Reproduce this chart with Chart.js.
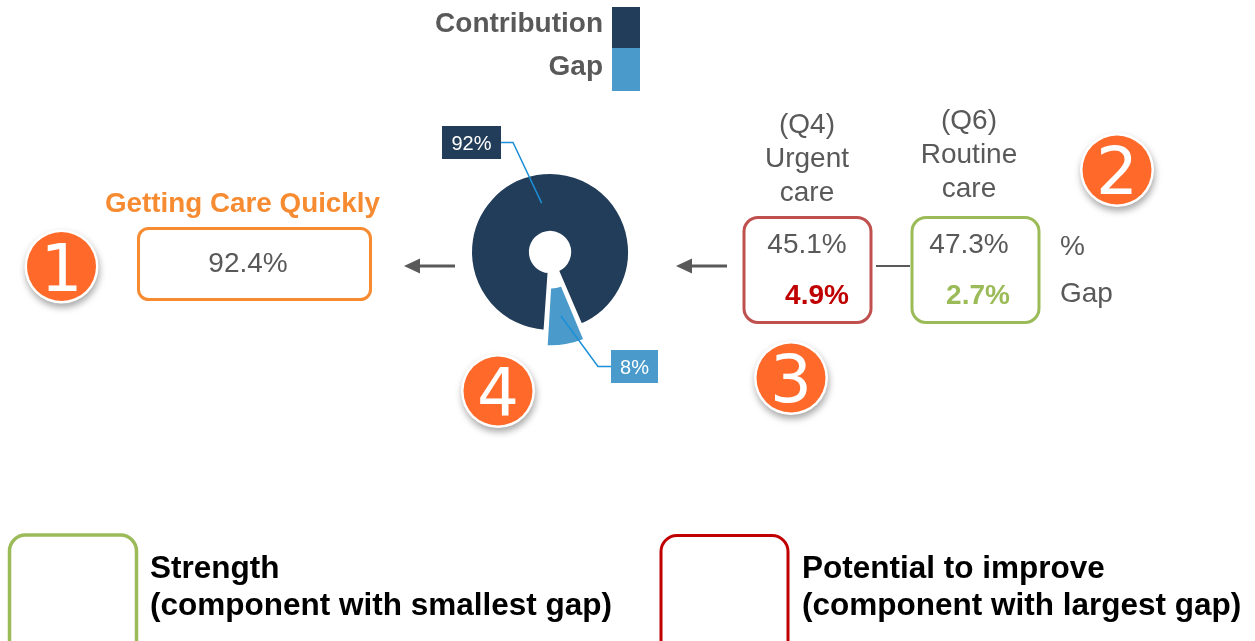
<!DOCTYPE html>
<html>
<head>
<meta charset="utf-8">
<title>Getting Care Quickly</title>
<script src="https://cdn.jsdelivr.net/npm/chart.js@4.4.1/dist/chart.umd.min.js"></script>
<style>
  html, body { margin: 0; padding: 0; background: #ffffff; }
  #wrap { position: relative; width: 1255px; height: 641px; overflow: hidden; }
</style>
</head>
<body>
<div id="wrap"><canvas id="chart"></canvas></div>
<script>
// Composite split into its contribution and the remaining gap
const sliceLabels = ['Contribution', 'Gap'];
const sliceValues = [92.4, 7.6];
const sliceColors = ['#213D59', '#4A9BCB'];

// Composite and its component questions
const compositeName = 'Getting Care Quickly';
const compositeScore = 92.4;
const itemCodes = ['(Q4)', '(Q6)'];
const itemNames = [['Urgent', 'care'], ['Routine', 'care']];
const itemScores = [45.1, 47.3];
const itemGaps = [4.9, 2.7];
const rowLabels = ['%', 'Gap'];

// Step markers and the key at the bottom
const stepNumbers = ['1', '2', '3', '4'];
const keyTitles = ['Strength', 'Potential to improve'];
const keyNotes = ['(component with smallest gap)', '(component with largest gap)'];

const FONT = "'Liberation Sans', Arial, Helvetica, sans-serif";
const GREY = '#595959';
const ORANGE = '#F68B31';
const STEP = '#FF6A2A';
const GREEN = '#9BBB59';
const ROSE = '#C0504D';
const RED = '#C00000';
const LEADER = '#1B8FD8';

function rrect(ctx, x, y, w, h, r) {
  ctx.beginPath();
  ctx.moveTo(x + r, y);
  ctx.arcTo(x + w, y, x + w, y + h, r);
  ctx.arcTo(x + w, y + h, x, y + h, r);
  ctx.arcTo(x, y + h, x, y, r);
  ctx.arcTo(x, y, x + w, y, r);
  ctx.closePath();
}

function text(ctx, str, x, y, font, color, align) {
  ctx.font = font;
  ctx.fillStyle = color;
  ctx.textAlign = align || 'left';
  ctx.textBaseline = 'alphabetic';
  ctx.fillText(str, x, y);
}

function arrowLeft(ctx, x1, x0, y) {
  ctx.strokeStyle = GREY;
  ctx.fillStyle = GREY;
  ctx.lineWidth = 3;
  ctx.beginPath();
  ctx.moveTo(x1, y);
  ctx.lineTo(x0 + 15, y);
  ctx.stroke();
  ctx.beginPath();
  ctx.moveTo(x0, y);
  ctx.lineTo(x0 + 16, y - 7.5);
  ctx.lineTo(x0 + 16, y + 7.5);
  ctx.closePath();
  ctx.fill();
}

function stepMarker(ctx, label, cx, cy, r) {
  ctx.save();
  ctx.shadowColor = 'rgba(0,0,0,0.35)';
  ctx.shadowBlur = 7;
  ctx.shadowOffsetX = 1;
  ctx.shadowOffsetY = 4;
  ctx.beginPath();
  ctx.arc(cx, cy, r, 0, Math.PI * 2);
  ctx.fillStyle = '#ffffff';
  ctx.fill();
  ctx.restore();
  ctx.beginPath();
  ctx.arc(cx, cy, r - 2.5, 0, Math.PI * 2);
  ctx.fillStyle = STEP;
  ctx.fill();
  text(ctx, label, cx, cy + 24, "66px 'DejaVu Sans', sans-serif", '#ffffff', 'center');
}

// Legend: names right-aligned against stacked colour swatches
function drawLegend(ctx, chart) {
  const ds = chart.data.datasets[0];
  const rows = [{ top: 7, h: 41, base: 32 }, { top: 48, h: 43, base: 75 }];
  chart.data.labels.forEach((lab, i) => {
    ctx.fillStyle = ds.backgroundColor[i];
    ctx.fillRect(612, rows[i].top, 28, rows[i].h);
    text(ctx, lab, 603, rows[i].base, 'bold 28px ' + FONT, GREY, 'right');
  });
}

// Value call-outs joined to the middle of each slice
function drawSliceLabels(ctx, chart) {
  const meta = chart.getDatasetMeta(0);
  const ds = chart.data.datasets[0];
  const total = ds.data.reduce((a, b) => a + b, 0);
  const boxes = [
    { x: 442, y: 126, w: 59, h: 33, ex: 513, side: 'right' },
    { x: 611, y: 350, w: 47, h: 33, ex: 598, side: 'left' }
  ];
  meta.data.forEach((arc, i) => {
    const p = arc.getProps(['x', 'y', 'startAngle', 'endAngle', 'innerRadius', 'outerRadius', 'circumference'], true);
    // the arc element shifts an offset slice by a quarter of its offset option
    // and widens it by that shift scaled with its sweep
    const shift = (ds.offset[i] || 0) / 4;
    const grow = shift * (1 - Math.sin(Math.min(Math.PI, p.circumference || 0)));
    const mid = (p.startAngle + p.endAngle) / 2;
    const rad = (p.innerRadius + p.outerRadius) / 2 + grow + shift;
    const ax = p.x + Math.cos(mid) * rad;
    const ay = p.y + Math.sin(mid) * rad;
    const b = boxes[i];
    const ly = b.y + b.h / 2;
    const sx = b.side === 'right' ? b.x + b.w : b.x;
    ctx.strokeStyle = LEADER;
    ctx.lineWidth = 1.5;
    ctx.beginPath();
    ctx.moveTo(sx, ly);
    ctx.lineTo(b.ex, ly);
    ctx.lineTo(ax, ay);
    ctx.stroke();
    ctx.fillStyle = ds.backgroundColor[i];
    ctx.fillRect(b.x, b.y, b.w, b.h);
    const pct = Math.round(ds.data[i] / total * 100) + '%';
    text(ctx, pct, b.x + b.w / 2, ly + 7.5, '20px ' + FONT, '#ffffff', 'center');
  });
}

function drawPanels(ctx) {
  // composite score
  text(ctx, compositeName, 105, 212, 'bold 27.8px ' + FONT, ORANGE, 'left');
  ctx.strokeStyle = ORANGE;
  ctx.lineWidth = 3;
  rrect(ctx, 138.5, 228.5, 232, 71, 10);
  ctx.stroke();
  text(ctx, compositeScore.toFixed(1) + '%', 248, 272, '28px ' + FONT, GREY, 'center');

  arrowLeft(ctx, 455, 404, 266);
  arrowLeft(ctx, 727, 676, 266);

  // component questions
  const cols = [
    { cx: 807, bx: 744, top: 133, border: ROSE, gapColor: RED, gx: 817 },
    { cx: 969, bx: 912, top: 128.5, border: GREEN, gapColor: GREEN, gx: 978 }
  ];
  cols.forEach((c, i) => {
    text(ctx, itemCodes[i], c.cx, c.top, '28px ' + FONT, GREY, 'center');
    itemNames[i].forEach((ln, k) => {
      text(ctx, ln, c.cx, c.top + 34 * (k + 1), '28px ' + FONT, GREY, 'center');
    });
    ctx.strokeStyle = c.border;
    ctx.lineWidth = 3;
    rrect(ctx, c.bx, 217.5, 127, 105, 14);
    ctx.stroke();
    text(ctx, itemScores[i].toFixed(1) + '%', c.cx, 253, '28px ' + FONT, GREY, 'center');
    text(ctx, itemGaps[i].toFixed(1) + '%', c.gx, 304, 'bold 28px ' + FONT, c.gapColor, 'center');
  });

  ctx.strokeStyle = GREY;
  ctx.lineWidth = 2;
  ctx.beginPath();
  ctx.moveTo(876, 266);
  ctx.lineTo(910, 266);
  ctx.stroke();

  text(ctx, rowLabels[0], 1060, 255, '28px ' + FONT, GREY, 'left');
  text(ctx, rowLabels[1], 1060, 302, '28px ' + FONT, GREY, 'left');

  // numbered steps
  const spots = [[61.5, 266.5], [1117, 170], [791, 378], [498, 391]];
  stepNumbers.forEach((n, i) => stepMarker(ctx, n, spots[i][0], spots[i][1], 37));

  // key
  ctx.lineWidth = 3.5;
  ctx.strokeStyle = GREEN;
  rrect(ctx, 9.5, 535, 127, 125, 16);
  ctx.stroke();
  ctx.lineWidth = 3;
  ctx.strokeStyle = RED;
  rrect(ctx, 661, 535.5, 127, 125, 16);
  ctx.stroke();
  const keyX = [150, 802];
  keyTitles.forEach((t, i) => {
    text(ctx, t, keyX[i], 578, 'bold 31.5px ' + FONT, '#000000', 'left');
    text(ctx, keyNotes[i], keyX[i], 615, 'bold 31.5px ' + FONT, '#000000', 'left');
  });
}

const scorecard = {
  id: 'scorecard',
  afterDraw(chart) {
    const ctx = chart.ctx;
    ctx.save();
    drawLegend(ctx, chart);
    drawSliceLabels(ctx, chart);
    drawPanels(ctx);
    ctx.restore();
  }
};

new Chart(document.getElementById('chart'), {
  type: 'doughnut',
  data: {
    labels: sliceLabels,
    datasets: [{
      data: sliceValues,
      backgroundColor: sliceColors,
      borderColor: '#ffffff',
      borderWidth: 2,
      offset: [0, 40],
      hoverOffset: 0
    }]
  },
  options: {
    responsive: true,
    maintainAspectRatio: false,
    animation: false,
    events: [],
    rotation: 184,
    cutout: '25.5%',
    radius: 79,
    layout: { padding: { left: 0, right: 155, top: 0, bottom: 137 } },
    plugins: {
      legend: { display: false },
      tooltip: { enabled: false }
    }
  }
  ,
  plugins: [scorecard]
});
</script>
</body>
</html>
